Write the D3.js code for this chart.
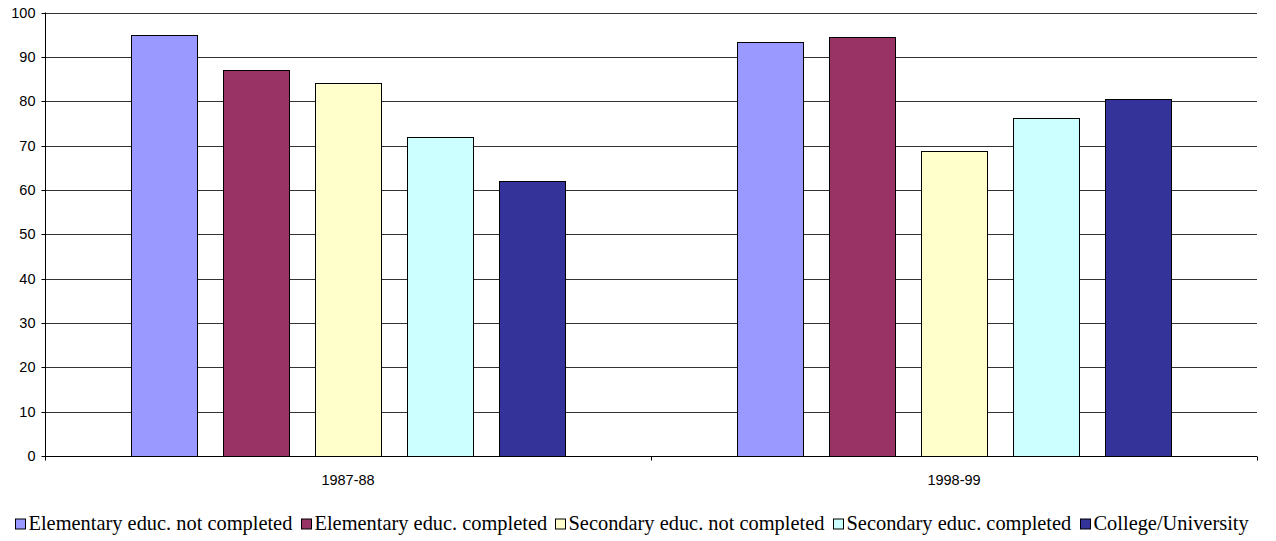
<!DOCTYPE html>
<html>
<head>
<meta charset="utf-8">
<script src="https://cdn.jsdelivr.net/npm/d3@7"></script>
<style>
  html, body { margin: 0; padding: 0; background: #fff; }
  svg { display: block; }
</style>
</head>
<body>
<svg id="chart" width="1276" height="541"></svg>
<script>
// Survey periods on the category axis
const periods = ["1987-88", "1998-99"];

// Education levels (one bar per level in each period)
const levels = [
  "Elementary educ. not completed",
  "Elementary educ. completed",
  "Secondary educ. not completed",
  "Secondary educ. completed",
  "College/University"
];

// Percentages per education level, in the order of the periods
const elemNotCompleted = [95, 93.3];
const elemCompleted = [87, 94.5];
const secNotCompleted = [84, 68.8];
const secCompleted = [72, 76.3];
const college = [62, 80.4];

const seriesValues = [elemNotCompleted, elemCompleted, secNotCompleted, secCompleted, college];

const colors = ["#9999ff", "#993366", "#ffffcc", "#ccffff", "#333399"];

const yTicks = [0, 10, 20, 30, 40, 50, 60, 70, 80, 90, 100];

const svg = d3.select("#chart");

const plot = { left: 45, right: 1257, top: 12.5, bottom: 456 };

const y = d3.scaleLinear().domain([0, 100]).range([plot.bottom, plot.top]);

const x0 = d3.scaleBand()
  .domain(periods)
  .range([plot.left, plot.right])
  .paddingInner(0)
  .paddingOuter(0);

const x1 = d3.scaleBand()
  .domain(levels)
  .range([0, x0.bandwidth()])
  .paddingInner(26 / 92)
  .paddingOuter(0.935);

const sansFont = "'Liberation Sans', Arial, sans-serif";
const serifFont = "'Liberation Serif', 'Times New Roman', serif";

// Horizontal gridlines
svg.append("g")
  .selectAll("line")
  .data(yTicks.filter(d => d > 0))
  .join("line")
  .attr("x1", plot.left)
  .attr("x2", plot.right)
  .attr("y1", d => Math.round(y(d)) + 0.5)
  .attr("y2", d => Math.round(y(d)) + 0.5)
  .attr("stroke", "#333")
  .attr("stroke-width", 1);

// Bars
const rows = [];
periods.forEach((p, i) => {
  levels.forEach((l, j) => rows.push({ period: p, level: l, value: seriesValues[j][i], color: colors[j] }));
});

svg.append("g")
  .selectAll("rect")
  .data(rows)
  .join("rect")
  .attr("x", d => Math.round(x0(d.period) + x1(d.level)) + 0.5)
  .attr("y", d => Math.round(y(d.value)) + 0.5)
  .attr("width", Math.round(x1.bandwidth()))
  .attr("height", d => Math.round(y(0)) - Math.round(y(d.value)))
  .attr("fill", d => d.color)
  .attr("stroke", "#000")
  .attr("stroke-width", 1);

// Y axis
const yAxis = d3.axisLeft(y)
  .tickValues(yTicks)
  .tickSize(4)
  .tickPadding(6)
  .tickFormat(d3.format("d"));

const gy = svg.append("g")
  .attr("transform", `translate(${plot.left + 0.5},0)`)
  .call(yAxis);
gy.select(".domain").attr("stroke", "#000").attr("d", `M0,${plot.top}V${Math.round(plot.bottom) + 0.5}`);
gy.selectAll(".tick line").attr("stroke", "#000");
gy.selectAll(".tick").attr("transform", d => `translate(0,${Math.round(y(d)) + 0.5})`);
gy.selectAll("text")
  .style("font-family", sansFont)
  .style("font-size", "14.5px")
  .attr("fill", "#000");

// X axis with boundary ticks between the periods
const gx = svg.append("g")
  .attr("transform", `translate(0,${Math.round(plot.bottom) + 0.5})`);
gx.append("line")
  .attr("x1", plot.left).attr("x2", plot.right)
  .attr("stroke", "#000");
const boundaries = [x0(periods[0]), x0(periods[1]), x0(periods[1]) + x0.bandwidth()];
gx.selectAll("line.b")
  .data(boundaries)
  .join("line")
  .attr("class", "b")
  .attr("x1", d => Math.round(d) + 0.5)
  .attr("x2", d => Math.round(d) + 0.5)
  .attr("y1", 0).attr("y2", 4)
  .attr("stroke", "#000");
gx.selectAll("text")
  .data(periods)
  .join("text")
  .attr("x", d => x0(d) + x0.bandwidth() / 2)
  .attr("y", 28)
  .attr("text-anchor", "middle")
  .style("font-family", sansFont)
  .style("font-size", "14.5px")
  .attr("fill", "#000")
  .text(d => d);

// Legend
const legend = svg.append("g");
const items = legend.selectAll("g")
  .data(levels)
  .join("g");
items.append("rect")
  .attr("width", 10)
  .attr("height", 10)
  .attr("y", -11)
  .attr("fill", (d, i) => colors[i])
  .attr("stroke", "#000")
  .attr("stroke-width", 1);
items.append("text")
  .attr("x", 13)
  .attr("y", 0)
  .style("font-family", serifFont)
  .style("font-size", "20.4px")
  .attr("fill", "#000")
  .text(d => d);

let cursor = 0;
const gap = 9;
const offsets = [];
items.each(function () {
  offsets.push(cursor);
  const w = this.querySelector("text").getComputedTextLength() + 13;
  cursor += w + gap;
});
const totalW = cursor - gap;
const startX = 631.5 - totalW / 2;
items.attr("transform", (d, i) => `translate(${Math.round(startX + offsets[i]) + 0.5},530)`);
</script>
</body>
</html>
